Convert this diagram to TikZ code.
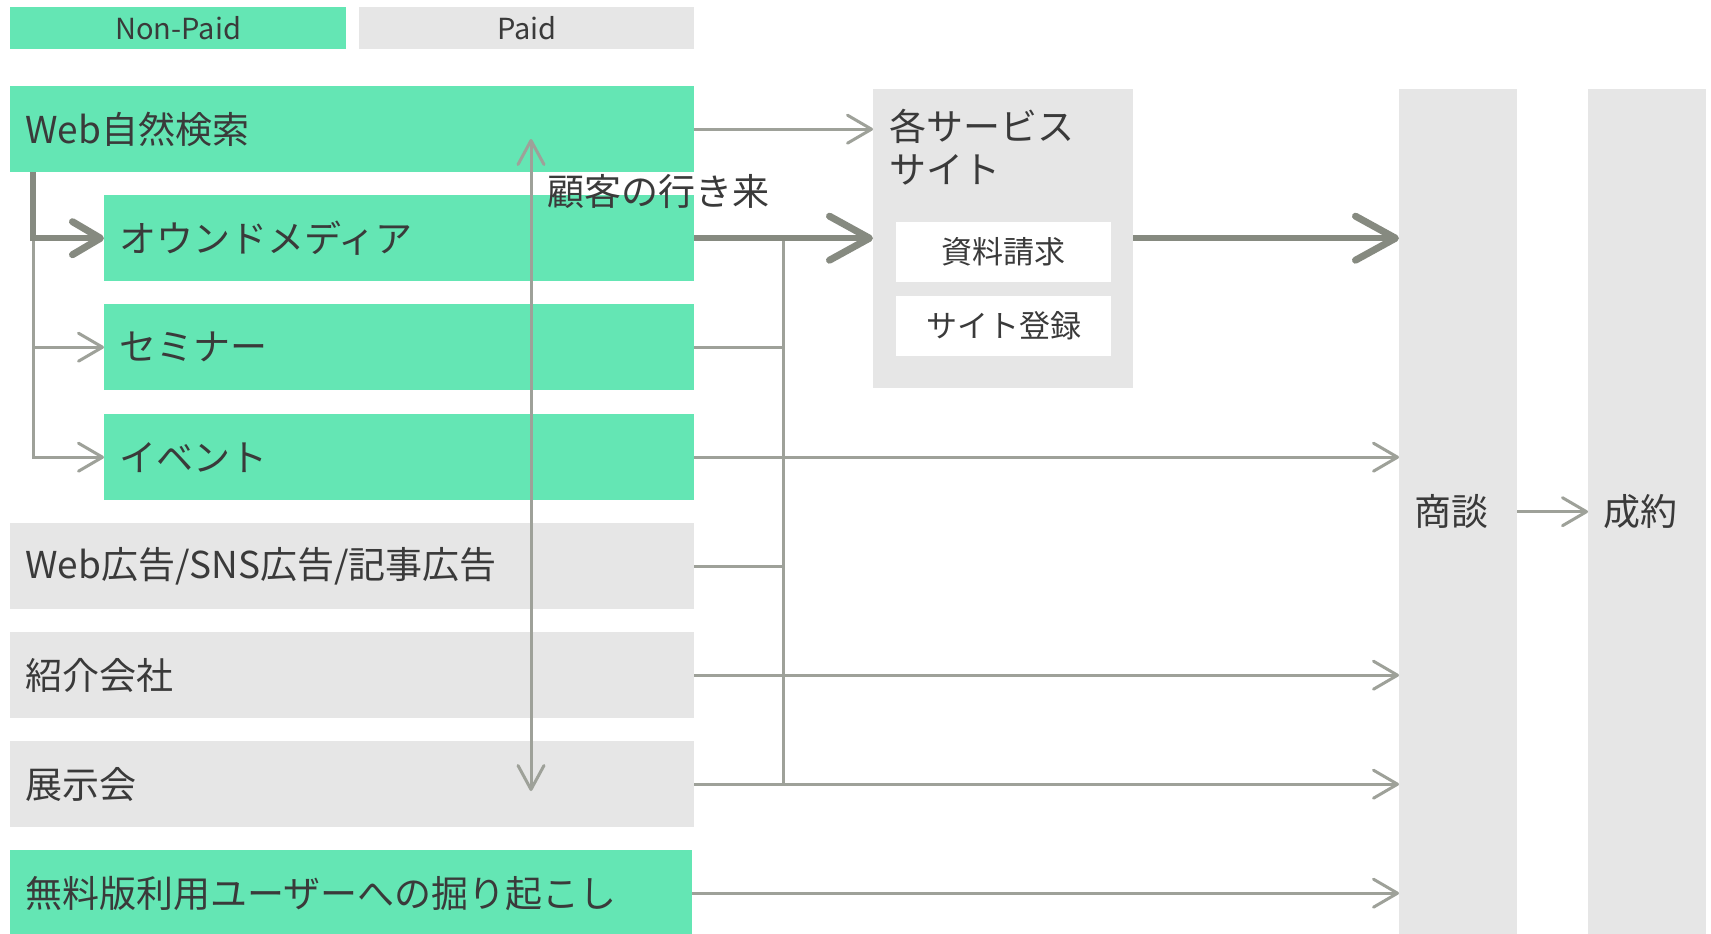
\documentclass[tikz,border=0pt]{standalone}
\usepackage{fontspec}
\setmainfont{Noto Sans CJK JP}
\usetikzlibrary{arrows.meta}
\definecolor{grn}{HTML}{64E6B4}
\definecolor{gry}{HTML}{E6E6E6}
\definecolor{lnthin}{HTML}{9EA199}
\definecolor{lnthick}{HTML}{868A80}
\definecolor{txt}{HTML}{3A3A3A}
\begin{document}
\begin{tikzpicture}[x=1pt,y=-1pt,
  box/.style={anchor=north west, inner xsep=15pt, inner ysep=0pt, minimum height=86pt,
    text=txt, font=\fontsize{37}{44}\selectfont, align=left},
  gbox/.style={box, fill=grn},
  pbox/.style={box, fill=gry},
  hdr/.style={anchor=north west, inner sep=0pt, minimum height=42pt, text=txt,
    font=\fontsize{29}{34}\selectfont},
  panel/.style={anchor=north west, inner sep=0pt, fill=gry},
  subbox/.style={anchor=north west, inner sep=0pt, fill=white, minimum width=215pt,
    minimum height=60pt, text=txt, font=\fontsize{31}{36}\selectfont},
  lbl/.style={inner sep=0pt, text=txt, font=\fontsize{37}{44}\selectfont},
  thinln/.style={draw=lnthin, line width=3pt},
  thickln/.style={draw=lnthick, line width=6pt},
  thinarrow/.style={thinln, -{Straight Barb[length=24pt,width=28pt,round]}},
  thickarrow/.style={thickln, -{Straight Barb[length=40pt,width=44pt,round,line width=7pt]}},
  treearrow/.style={thickln, -{Straight Barb[length=28pt,width=33pt,round,line width=7pt]}},
  dblarrow/.style={thinln, {Straight Barb[length=24pt,width=26pt,round]}-{Straight Barb[length=24pt,width=26pt,round]}}
]
\useasboundingbox (0,0) rectangle (1711,934);
\fill[white] (0,0) rectangle (1711,934);

% header
\node[hdr, fill=grn, minimum width=336pt] (np) at (10,7) {Non-Paid};
\node[hdr, fill=gry, minimum width=335pt] (pd) at (359,7) {Paid};

% channels
\node[gbox, text width=654pt] (web) at (10,86) {Web自然検索};
\node[gbox, text width=560pt] (owned) at (104,195) {オウンドメディア};
\node[gbox, text width=560pt] (seminar) at (104,304) {セミナー};
\node[gbox, text width=560pt] (event) at (104,414) {イベント};
\node[pbox, text width=654pt] (ad) at (10,523) {Web広告/SNS広告/記事広告};
\node[pbox, text width=654pt] (agency) at (10,632) {紹介会社};
\node[pbox, text width=654pt] (expo) at (10,741) {展示会};
\node[gbox, text width=652pt] (free) at (10,850) {無料版利用ユーザーへの掘り起こし};

% service site panel
\node[panel, minimum width=260pt, minimum height=299pt] (site) at (873,89) {};
\node[lbl, anchor=base west] (sitea) at (889,140) {各サービス};
\node[lbl, anchor=base west] (siteb) at (889,183) {サイト};
\node[subbox] (doc) at (896,222) {資料請求};
\node[subbox] (reg) at (896,296) {サイト登録};

% deal / close
\node[panel, minimum width=118pt, minimum height=845pt] (deal) at (1399,89) {};
\node[lbl] (dealt) at ([xshift=-7pt]deal.center) {商談};
\node[panel, minimum width=118pt, minimum height=845pt] (close) at (1588,89) {};
\node[lbl] (closet) at ([xshift=-7pt]close.center) {成約};

% left tree
\coordinate (tree) at (33,172);
\draw[thinarrow] (owned.west -| tree) |- (event.west);
\draw[thinarrow] (seminar.west -| tree) -- (seminar.west);
\draw[treearrow] (web.south -| tree) |- (owned.west);

% right connectors
\coordinate (bus) at (783,238);
\draw[thinln] (owned.east -| bus) -- (expo.east -| bus);
\draw[thinln] (seminar.east) -- (seminar.east -| bus);
\draw[thinln] (ad.east) -- (ad.east -| bus);
\draw[thinarrow] (web.east) -- (web.east -| site.west);
\draw[thickarrow] (owned.east) -- (owned.east -| site.west);
\draw[thickarrow] (site.east |- owned.east) -- (owned.east -| deal.west);
\draw[thinarrow] (event.east) -- (event.east -| deal.west);
\draw[thinarrow] (agency.east) -- (agency.east -| deal.west);
\draw[thinarrow] (expo.east) -- (expo.east -| deal.west);
\draw[thinarrow] (free.east) -- (free.east -| deal.west);
\draw[thinarrow] (deal.east) -- (close.west);

% customer back-and-forth
\coordinate (ctop) at (531,139);
\coordinate (cbot) at (531,791);
\draw[dblarrow] (ctop) -- (cbot);
\node[lbl, anchor=west] (flow) at (547,191) {顧客の行き来};
\end{tikzpicture}
\end{document}
